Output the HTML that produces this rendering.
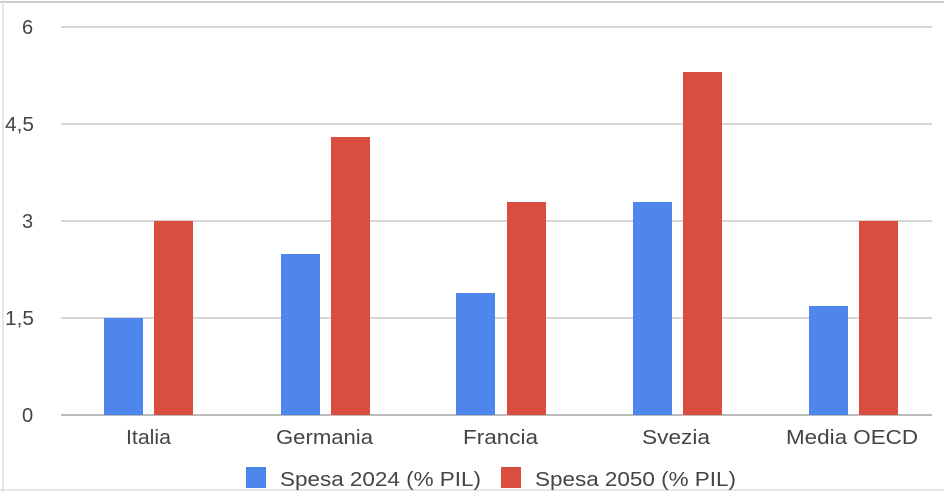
<!DOCTYPE html>
<html><head><meta charset="utf-8"><style>
body{margin:0;background:#fff}
svg{display:block;font-family:"Liberation Sans",Arial,sans-serif}
</style></head><body>
<svg width="944" height="492" viewBox="0 0 944 492">
<rect width="944" height="492" fill="#fff"/>
<line x1="0" y1="2" x2="944" y2="2" stroke="#bbb" stroke-width="1.5"/>
<line x1="3" y1="0" x2="3" y2="492" stroke="#ddd" stroke-width="1.5"/>
<line x1="0" y1="490" x2="944" y2="490" stroke="#ddd" stroke-width="1.5"/>
<g stroke="#d6d6d6" stroke-width="2">
<line x1="61" y1="27" x2="932" y2="27"/>
<line x1="61" y1="124" x2="932" y2="124"/>
<line x1="61" y1="221" x2="932" y2="221"/>
<line x1="61" y1="318" x2="932" y2="318"/>
</g>
<line x1="61" y1="415" x2="932" y2="415" stroke="#bbb" stroke-width="2"/>
<g font-size="20" fill="#444">
<text x="22" y="34">6</text>
<text x="5" y="131" textLength="29" lengthAdjust="spacingAndGlyphs">4,5</text>
<text x="22" y="228">3</text>
<text x="5" y="325" textLength="29" lengthAdjust="spacingAndGlyphs">1,5</text>
<text x="22" y="422">0</text>
</g>
<g fill="#4f86ec">
<rect x="104" y="318" width="39" height="97"/>
<rect x="281" y="254" width="39" height="161"/>
<rect x="456" y="293" width="39" height="122"/>
<rect x="633" y="202" width="39" height="213"/>
<rect x="809" y="306" width="39" height="109"/>
</g>
<g fill="#d94e3f">
<rect x="154" y="221" width="39" height="194"/>
<rect x="331" y="137" width="39" height="278"/>
<rect x="507" y="202" width="39" height="213"/>
<rect x="683" y="72" width="39" height="343"/>
<rect x="859" y="221" width="39" height="194"/>
</g>
<g font-size="20" fill="#444" lengthAdjust="spacingAndGlyphs">
<text x="126" y="444" textLength="45" lengthAdjust="spacingAndGlyphs">Italia</text>
<text x="276" y="444" textLength="97" lengthAdjust="spacingAndGlyphs">Germania</text>
<text x="463" y="444" textLength="75" lengthAdjust="spacingAndGlyphs">Francia</text>
<text x="642" y="444" textLength="68" lengthAdjust="spacingAndGlyphs">Svezia</text>
<text x="786" y="444" textLength="132" lengthAdjust="spacingAndGlyphs">Media OECD</text>
</g>
<rect x="246" y="467" width="20" height="21" fill="#4f86ec"/>
<rect x="501" y="467" width="20" height="21" fill="#d94e3f"/>
<g font-size="20" fill="#444">
<text x="280" y="486" textLength="201" lengthAdjust="spacingAndGlyphs">Spesa 2024 (% PIL)</text>
<text x="535" y="486" textLength="201" lengthAdjust="spacingAndGlyphs">Spesa 2050 (% PIL)</text>
</g>
</svg>
</body></html>
